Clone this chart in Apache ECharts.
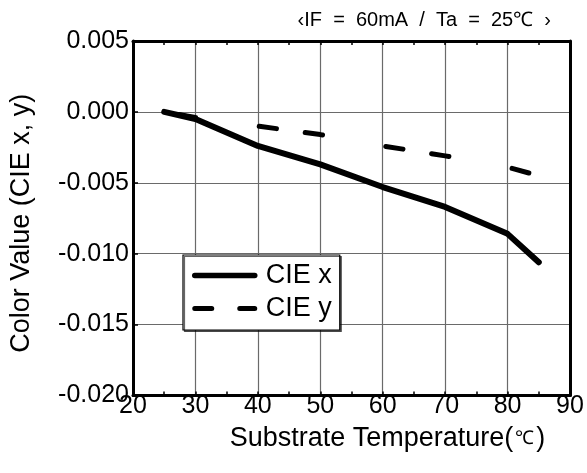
<!DOCTYPE html>
<html>
<head>
<meta charset="utf-8">
<script src="https://cdn.jsdelivr.net/npm/echarts@6/dist/echarts.min.js"></script>
<style>
html,body{margin:0;padding:0;background:#fff;}
#chart{width:587px;height:473px;}
</style>
</head>
<body>
<div id="chart"></div>
<script>
// ---- data ----
const temperatures = [25, 30, 40, 50, 60, 70, 80, 85];
const cieX = [0.0000, -0.0005, -0.0024, -0.0037, -0.0053, -0.0067, -0.0086, -0.0106];
const cieY = [0.0000, -0.0004, -0.0010, -0.0016, -0.0024, -0.0031, -0.0039, -0.0045];
const seriesNames = ['CIE x', 'CIE y'];
const xAxisMin = 20, xAxisMax = 90, xAxisStep = 10;
const yAxisMin = -0.020, yAxisMax = 0.005, yAxisStep = 0.005;
const conditionText = '\u2039IF  =  60mA  /  Ta  =  25\u2103  \u203A';

const FONT = 'Liberation Sans, Arial, sans-serif';
const chart = echarts.init(document.getElementById('chart'), null, {renderer: 'canvas'});

function pairs(xs, ys) { return xs.map((x, i) => [x, ys[i]]); }

const option = {
  backgroundColor: '#fff',
  animation: false,
  title: {
    text: conditionText,
    right: 36, top: 10, padding: 0,
    textStyle: {fontFamily: FONT, fontSize: 20, fontWeight: 'normal', color: '#000'}
  },
  grid: {left: 127, right: 17, top: 41, bottom: 77.5, containLabel: false},
  legend: {
    orient: 'vertical',
    left: 183, top: 255,
    padding: [7, 8, 8, 9],
    itemWidth: 60, itemHeight: 14, itemGap: 6,
    backgroundColor: '#fff',
    borderColor: '#000', borderWidth: 1.2,
    shadowColor: 'rgba(0,0,0,0.6)', shadowOffsetX: 1.5, shadowOffsetY: 1.5, shadowBlur: 0,
    textStyle: {fontFamily: FONT, fontSize: 27, color: '#000', padding: [0, 0, 0, 6]},
    data: [
      {name: seriesNames[0], itemStyle: {opacity: 0},
       lineStyle: {width: 5.5, type: 'solid', cap: 'round', color: '#000', opacity: 1}},
      {name: seriesNames[1], itemStyle: {opacity: 0},
       lineStyle: {width: 5, type: [17, 28], dashOffset: 0, cap: 'round', color: '#000', opacity: 1}}
    ]
  },
  xAxis: [{
    type: 'value', min: xAxisMin, max: xAxisMax, interval: xAxisStep,
    name: '{a|Substrate Temperature(}{b|\u2103}{a|)}',
    nameLocation: 'middle', nameGap: 30,
    nameTextStyle: {
      padding: [0, 0, 0, 72],
      rich: {
        a: {fontFamily: FONT, fontSize: 27, color: '#000'},
        b: {fontFamily: FONT, fontSize: 19, color: '#000', padding: [0, 2, 0, 2]}
      }
    },
    axisLine: {show: true, onZero: false, lineStyle: {color: '#000', width: 3}},
    axisTick: {show: true, inside: true, length: 4, lineStyle: {color: '#000', width: 1.5}},
    minorTick: {show: true, splitNumber: 2, length: 4, lineStyle: {color: '#000', width: 1.5}},
    splitLine: {show: true, lineStyle: {color: '#6a6a6a', width: 1.2}},
    axisLabel: {fontFamily: FONT, fontSize: 25, color: '#000', margin: -2}
  }, {
    type: 'value', position: 'top', min: xAxisMin, max: xAxisMax, interval: xAxisStep,
    axisLine: {show: true, onZero: false, lineStyle: {color: '#000', width: 3}},
    axisTick: {show: true, inside: true, length: 4, lineStyle: {color: '#000', width: 1.5}},
    minorTick: {show: true, splitNumber: 2, length: 4, lineStyle: {color: '#000', width: 1.5}},
    splitLine: {show: false}, axisLabel: {show: false}
  }],
  yAxis: [{
    type: 'value', min: yAxisMin, max: yAxisMax, interval: yAxisStep,
    name: 'Color Value (CIE x, y)',
    nameLocation: 'middle', nameGap: 98,
    nameTextStyle: {fontFamily: FONT, fontSize: 27, color: '#000', padding: [0, 10, 0, 0]},
    axisLine: {show: true, onZero: false, lineStyle: {color: '#000', width: 3}},
    axisTick: {show: true, inside: true, length: 5, lineStyle: {color: '#000', width: 1.5}},
    splitLine: {show: true, lineStyle: {color: '#6a6a6a', width: 1.2}},
    axisLabel: {fontFamily: FONT, fontSize: 25, color: '#000', margin: 4,
      formatter: v => (Math.abs(v) < 1e-12 ? 0 : v).toFixed(3)}
  }, {
    type: 'value', position: 'right', min: yAxisMin, max: yAxisMax, interval: yAxisStep,
    axisLine: {show: true, onZero: false, lineStyle: {color: '#000', width: 3}},
    axisTick: {show: false}, splitLine: {show: false}, axisLabel: {show: false}
  }],
  series: [{
    name: seriesNames[0], type: 'line', symbol: 'none',
    data: pairs(temperatures, cieX),
    lineStyle: {color: '#000', width: 6, cap: 'round', join: 'round'},
    itemStyle: {color: '#000'}, z: 3
  }, {
    name: seriesNames[1], type: 'line', symbol: 'none',
    data: pairs(temperatures, cieY),
    lineStyle: {color: '#000', width: 5, type: [17.4, 29, 17.5, 64.3], dashOffset: 32.1, cap: 'round', join: 'round'},
    itemStyle: {color: '#000'}, z: 3
  }]
};
chart.setOption(option);
</script>
</body>
</html>
